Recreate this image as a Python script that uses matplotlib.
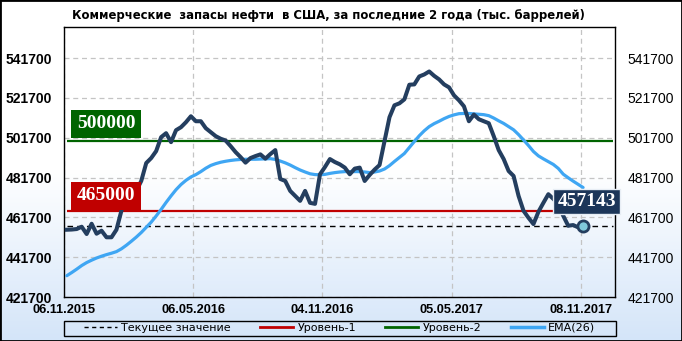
import numpy as np
import matplotlib
matplotlib.use("Agg")
import matplotlib.pyplot as plt
from matplotlib.colors import LinearSegmentedColormap
from matplotlib.lines import Line2D
from matplotlib.patches import Rectangle

# weekly US commercial crude stocks, thousand barrels
stocks = [
    455500, 455600, 455850, 457000, 453350, 458500, 453500, 455000, 451700, 451700,
    455500, 465000, 471000, 473000, 475000, 480000, 489000, 491500, 495000, 502000,
    504000, 499500, 505500, 507000, 509500, 512500, 510000, 510000, 506500, 504500,
    502500, 501200, 500300, 497500, 494500, 492000, 489200, 491500, 492500, 493350,
    491200, 493500, 495500, 481000, 480000, 475000, 472500, 470000, 475000, 469000,
    468500, 483350, 487000, 491000, 489500, 488350, 486700, 483350, 486200, 486700,
    480000, 483000, 485700, 488000, 500000, 512000, 518000, 519000, 521000, 528350,
    528500, 532500, 533500, 535000, 532800, 531000, 528500, 527000, 523000, 520500,
    517500, 510000, 513350, 511000, 510000, 509000, 502500, 495500, 491000, 485000,
    482500, 472500, 465000, 461500, 458350, 464500, 469000, 473350, 471000, 468500,
    462500, 457500, 457850, 456700, 457143,
]
ema26 = [
    432400, 434000, 435700, 437500, 439000, 440200, 441300, 442200, 443000, 443700,
    444500, 445900, 447700, 449700, 451800, 454100, 456700, 459300, 462400, 465700,
    469200, 472500, 475600, 478200, 480300, 482000, 483200, 484700, 486400, 487800,
    488700, 489400, 489900, 490300, 490600, 490800, 490900, 490900, 490900, 491000,
    491100, 491200, 490800, 490000, 489100, 488000, 486700, 485500, 484500, 483600,
    483200, 483100, 483300, 483800, 484200, 484500, 484700, 484700, 484700, 484700,
    484500, 484200, 484500, 485000, 486000, 487700, 489800, 491800, 493800, 496800,
    499800, 502700, 505200, 507300, 508800, 510000, 511300, 512400, 513200, 513800,
    513900, 513900, 513700, 513500, 513300, 512800, 511600, 510200, 508900, 507300,
    505700, 503300, 500600, 497800, 494800, 492600, 491100, 489700, 488300, 486300,
    483400, 481600, 479900, 478300, 476700,
]
current = 457143
level_1 = 465000
level_2 = 500000

tick_pos = [0, 26, 52, 78, 104]
tick_dates = ["06.11.2015", "06.05.2016", "04.11.2016", "05.05.2017", "08.11.2017"]
y_ticks = [421700, 441700, 461700, 481700, 501700, 521700, 541700]

NAVY = "#243e5f"
EMA_BLUE = "#3fa6f3"
RED = "#c00000"
GREEN = "#006400"

x = np.arange(len(stocks)) + 0.5

fig = plt.figure(figsize=(6.82, 3.41), dpi=100)

# background gradient: white at top, light blue at the bottom
bg = fig.add_axes([0, 0, 1, 1], zorder=0)
cmap = LinearSegmentedColormap.from_list("bg", [(0, "#d4e5f9"), (0.5, "#ffffff"), (1, "#ffffff")])
bg.imshow(np.linspace(0, 1, 256).reshape(-1, 1), aspect="auto", cmap=cmap,
          origin="lower", extent=[0, 1, 0, 1])
bg.add_patch(Rectangle((0, 0), 1, 1, transform=bg.transAxes, fill=False,
                       ec="black", lw=2, clip_on=False))
# legend frame spans the plot width
bg.add_patch(Rectangle((63.5 / 682, 1 - 335.5 / 341), 552 / 682, 15 / 341,
                       transform=bg.transAxes, fill=False, ec="black", lw=1))
bg.axis("off")

ax = fig.add_axes([0.0943, 0.129, 0.808, 0.791], zorder=1)
ax.set_facecolor("none")
ax.set_xlim(0, 111)
ax.set_ylim(421700, 557200)

ax.set_xticks(tick_pos)
ax.set_xticklabels(tick_dates)
ax.set_yticks(y_ticks)
ax.grid(True, color="#c4c4c4", linestyle=(0, (4, 3)), linewidth=0.9)
ax.tick_params(length=0, labelleft=True, labelright=True, pad=9)
ax.tick_params(axis="x", pad=5)
for t in ax.xaxis.get_major_ticks():
    t.label1.set_fontfamily("Liberation Sans")
    t.label1.set_fontweight("bold")
    t.label1.set_fontsize(9.2)
for t in ax.yaxis.get_major_ticks():
    t.label1.set_fontfamily("Liberation Sans")
    t.label1.set_fontweight("bold")
    t.label1.set_fontsize(10)
    t.label2.set_fontfamily("Liberation Sans")
    t.label2.set_fontsize(10)
for s in ax.spines.values():
    s.set_linewidth(1)

# horizontal reference lines
ax.hlines(current, x[0], 110.5, color="black", lw=1, linestyles=(0, (4, 3)), zorder=2)
ax.hlines(level_1, x[0], 110.5, color=RED, lw=1.6, zorder=2)
ax.hlines(level_2, x[0], 110.5, color=GREEN, lw=1.6, zorder=2)

ax.plot(x, ema26, color=EMA_BLUE, lw=2.3, zorder=3, solid_capstyle="round")
ax.plot(x, stocks, color=NAVY, lw=2.9, zorder=4, solid_joinstyle="round")
ax.plot(x[-1], stocks[-1], "o", ms=8, mfc="#7fc8da", mec=NAVY, mew=2, zorder=5)

serif = "Liberation Serif"
for val, col, dy in [(level_2, GREEN, 12.5), (level_1, RED, 10.8)]:
    ax.annotate(f"{val}", xy=(0, val), xycoords=ax.get_yaxis_transform(),
                xytext=(9, dy), textcoords="offset points", ha="left", va="center",
                color="white", fontsize=14, fontweight="bold", family=serif,
                bbox=dict(boxstyle="square,pad=0.28", fc=col, ec="none"), zorder=6)
ax.annotate(f"{current}", xy=(x[-1], stocks[-1]), xytext=(2.5, 18),
            textcoords="offset points", ha="center", va="center", color="white",
            fontsize=14, fontweight="bold", family=serif,
            bbox=dict(boxstyle="square,pad=0.22", fc="#1c3659", ec="#e8eef5", lw=1),
            zorder=7, annotation_clip=False)

fig.text(0.481, 0.956, "Коммерческие  запасы нефти  в США, за последние 2 года (тыс. баррелей)",
         ha="center", va="center", fontsize=8.4, fontweight="bold")

handles = [
    Line2D([], [], color="black", lw=1, linestyle=(0, (3, 2.5))),
    Line2D([], [], color=RED, lw=2),
    Line2D([], [], color=GREEN, lw=2),
    Line2D([], [], color=EMA_BLUE, lw=2.5),
]
labels = ["Текущее значение", "Уровень-1", "Уровень-2", "EMA(26)"]
fig.legend(handles, labels, loc="center", ncol=4,
           bbox_to_anchor=((63.5 + 276) / 682, 1 - 328 / 341),
           frameon=False, fontsize=8, handlelength=3.0, handletextpad=0.4,
           borderpad=0, borderaxespad=0, columnspacing=2.6)

fig.savefig("out.png", dpi=100)
